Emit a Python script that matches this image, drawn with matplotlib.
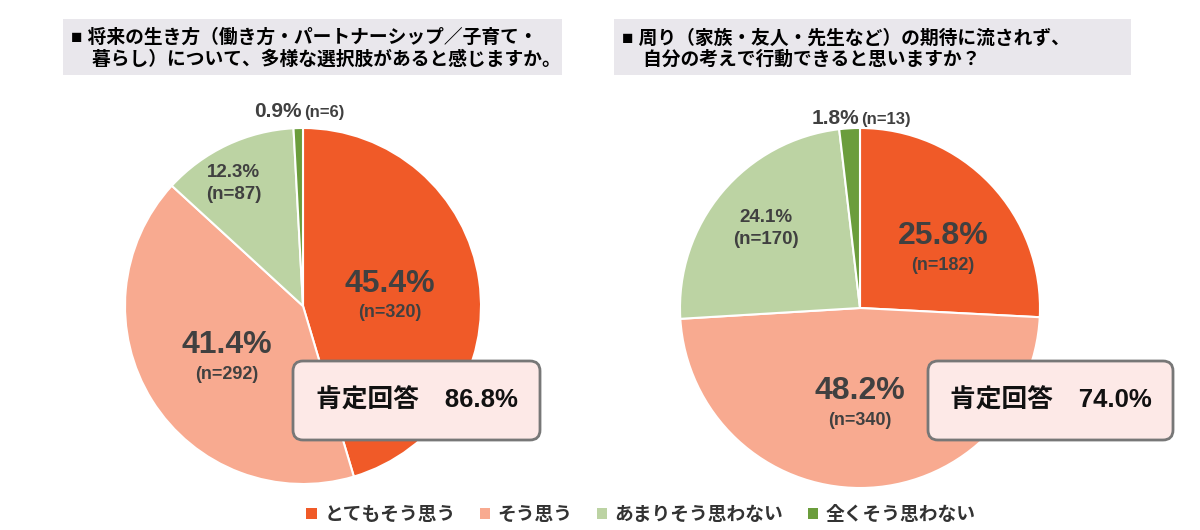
import matplotlib.pyplot as plt
from matplotlib.patches import FancyBboxPatch, Rectangle, Patch

plt.rcParams['font.family'] = ['Liberation Sans', 'Noto Sans CJK JP', 'DejaVu Sans']
plt.rcParams['font.weight'] = 'bold'

# data
categories = ['とてもそう思う', 'そう思う', 'あまりそう思わない', '全くそう思わない']
colors = ['#f05a28', '#f8aa90', '#bcd3a3', '#6b9d3c']

left_title = '■ 将来の生き方（働き方・パートナーシップ／子育て・\n    暮らし）について、多様な選択肢があると感じますか。'
left_counts = [320, 292, 87, 6]
left_pcts = ['45.4%', '41.4%', '12.3%', '0.9%']
left_positive = '肯定回答　86.8%'

right_title = '■ 周り（家族・友人・先生など）の期待に流されず、\n    自分の考えで行動できると思いますか？'
right_counts = [182, 340, 170, 13]
right_pcts = ['25.8%', '48.2%', '24.1%', '1.8%']
right_positive = '肯定回答　74.0%'

W, H = 1200, 530
fig = plt.figure(figsize=(12, 5.3), dpi=100)

for cx, cy, r, counts in [(303, 306, 178, left_counts), (860, 308, 180, right_counts)]:
    ax = fig.add_axes([(cx - r) / W, 1 - (cy + r) / H, 2 * r / W, 2 * r / H])
    ax.pie(counts, colors=colors, startangle=90, counterclock=False, radius=1,
           wedgeprops=dict(edgecolor='white', linewidth=1.5))
    ax.set_xlim(-1, 1)
    ax.set_ylim(-1, 1)
    ax.axis('off')

# overlay for text and boxes (pixel coordinates)
ov = fig.add_axes([0, 0, 1, 1])
ov.set_xlim(0, W)
ov.set_ylim(H, 0)
ov.axis('off')
ov.patch.set_alpha(0)

TXT = '#404040'


def pie_labels(cx, cy, r, counts, pcts, spots, big, small_y):
    for i in range(3):
        fx, fy = spots[i]
        x, y = cx + fx * r, cy - fy * r
        if big[i]:
            ov.text(x, y - 14, pcts[i], ha='center', va='center', fontsize=23,
                    color=TXT)
            ov.text(x, y + 15, f'(n={counts[i]})', ha='center', va='center',
                    fontsize=13, color=TXT)
        else:
            ov.text(x, y - 11, pcts[i], ha='center', va='center', fontsize=13.5,
                    color=TXT)
            ov.text(x, y + 11, f'(n={counts[i]})', ha='center', va='center',
                    fontsize=13.5, color=TXT)
    ov.text(cx - 1, small_y, pcts[3], ha='right', va='baseline', fontsize=15, color=TXT)
    ov.text(cx + 1, small_y, f'(n={counts[3]})', ha='left', va='baseline',
            fontsize=12, color=TXT)


def draw_title(x0, x1, text):
    ov.add_patch(Rectangle((x0, 19), x1 - x0, 56, facecolor='#e9e7ec',
                           edgecolor='none'))
    ov.text(x0 + 8, 49, text, ha='left', va='center', fontsize=13.5,
            linespacing=1.25, color='black')


def draw_callout(x0, y0, w, h, text):
    ov.add_patch(FancyBboxPatch((x0, y0), w, h, boxstyle='round,pad=0,rounding_size=10',
                                facecolor='#fde9e7', edgecolor='#777777', linewidth=2))
    ov.text(x0 + w / 2, y0 + h / 2, text, ha='center', va='center', fontsize=18.5,
            color='#111111')


draw_title(63, 562, left_title)
draw_title(614, 1131, right_title)

pie_labels(303, 306, 178, left_counts, left_pcts,
           [(0.49, 0.045), (-0.43, -0.30), (-0.39, 0.69)], [True, True, False], 117)
pie_labels(860, 308, 180, right_counts, right_pcts,
           [(0.46, 0.32), (0.0, -0.54), (-0.52, 0.44)], [True, True, False], 124)

draw_callout(293, 361, 247, 79, left_positive)
draw_callout(928, 361, 245, 79, right_positive)

handles = [Patch(facecolor=c, edgecolor='none') for c in colors]
ov.legend(handles, categories, loc='center', bbox_to_anchor=(641 / W, 1 - 515 / H),
          bbox_transform=fig.transFigure, ncol=4, frameon=False, fontsize=13.5,
          handlelength=0.55, handleheight=0.55, handletextpad=0.4, columnspacing=1.3,
          labelcolor='#333333')

fig.savefig('out.png', dpi=100)
